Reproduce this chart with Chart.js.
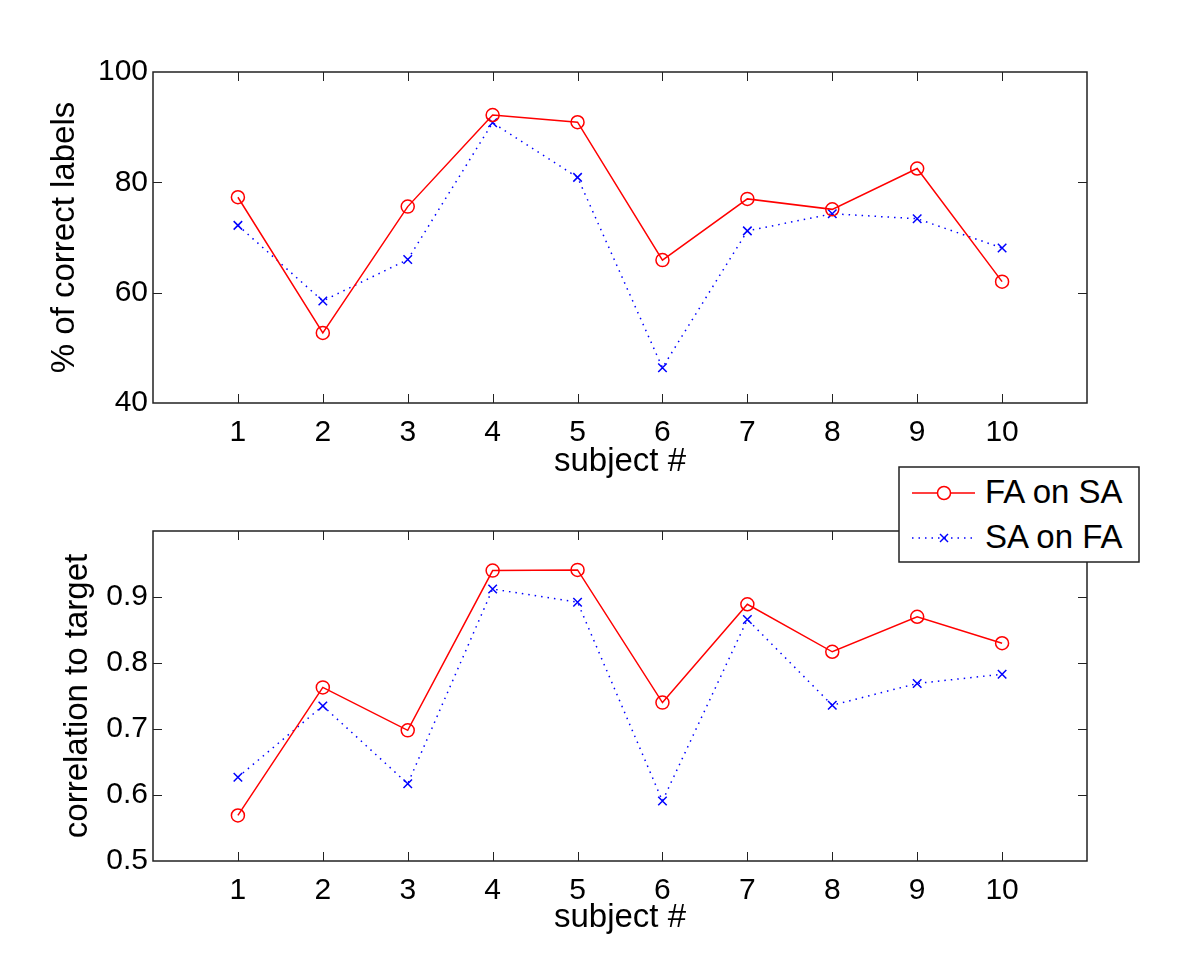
<!DOCTYPE html>
<html>
<head>
<meta charset="utf-8">
<script src="https://cdn.jsdelivr.net/npm/chart.js@4/dist/chart.umd.min.js"></script>
<style>
  body { margin: 0; background: #fff; }
  #wrap { position: relative; width: 1200px; height: 969px; }
  #top { position: absolute; left: 0; top: 0; }
  #bottom { position: absolute; left: 0; top: 490px; }
  #legend { position: absolute; left: 898px; top: 466px; }
</style>
</head>
<body>
<div id="wrap">
  <canvas id="top" width="1200" height="490"></canvas>
  <canvas id="bottom" width="1200" height="479"></canvas>
  <svg id="legend" width="243" height="98" font-family="'Liberation Sans', Arial, sans-serif">
    <rect x="1" y="1" width="240" height="95" fill="#fff" stroke="#222" stroke-width="1.5"/>
    <line x1="14" y1="27" x2="77" y2="27" stroke="#ff0000" stroke-width="1.5"/>
    <circle cx="46" cy="27" r="6.5" fill="#fff" stroke="#ff0000" stroke-width="1.5"/>
    <line x1="14" y1="72" x2="77" y2="72" stroke="#0000ff" stroke-width="1.5" stroke-dasharray="1.5 5"/>
    <line x1="42" y1="68" x2="50" y2="76" stroke="#0000ff" stroke-width="1.5"/>
    <line x1="42" y1="76" x2="50" y2="68" stroke="#0000ff" stroke-width="1.5"/>
    <text x="87" y="37" font-size="33" fill="#000">FA on SA</text>
    <text x="87" y="82" font-size="33" fill="#000">SA on FA</text>
  </svg>
</div>
<script>
// data
var subjects = [1, 2, 3, 4, 5, 6, 7, 8, 9, 10];
var faOnSaPct = [77.3, 52.7, 75.6, 92.2, 90.9, 65.9, 77.0, 75.1, 82.5, 62.0];
var saOnFaPct = [72.2, 58.5, 66.0, 90.8, 80.9, 46.4, 71.2, 74.3, 73.4, 68.1];
var faOnSaCorr = [0.569, 0.763, 0.698, 0.940, 0.941, 0.740, 0.889, 0.817, 0.870, 0.830];
var saOnFaCorr = [0.627, 0.735, 0.617, 0.912, 0.892, 0.591, 0.866, 0.736, 0.769, 0.783];
var pctTicks = [40, 60, 80, 100];
var corrTicks = [0.5, 0.6, 0.7, 0.8, 0.9];

var FONT = "'Liberation Sans', Arial, sans-serif";
Chart.defaults.font.family = FONT;
Chart.defaults.color = "#000";

function pts(vals) {
    return subjects.map(function (s, i) { return {x: s, y: vals[i]}; });
}

// box + inward tick marks, matlab style
var axesBox = {
    id: 'axesBox',
    afterDatasetsDraw: function (chart) {
        var a = chart.chartArea, ctx = chart.ctx, L = 9;
        ctx.save();
        ctx.strokeStyle = "#222";
        ctx.lineWidth = 1.5;
        ctx.strokeRect(a.left, a.top, a.right - a.left, a.bottom - a.top);
        ctx.lineWidth = 1;
        ctx.beginPath();
        chart.scales.x.ticks.forEach(function (t) {
            var px = Math.round(chart.scales.x.getPixelForValue(t.value)) + 0.5;
            ctx.moveTo(px, a.bottom); ctx.lineTo(px, a.bottom - L);
            ctx.moveTo(px, a.top); ctx.lineTo(px, a.top + L);
        });
        chart.scales.y.ticks.forEach(function (t) {
            var py = Math.round(chart.scales.y.getPixelForValue(t.value)) + 0.5;
            if (py <= a.top + 1 || py >= a.bottom - 1) return;
            ctx.moveTo(a.left, py); ctx.lineTo(a.left + L, py);
            ctx.moveTo(a.right, py); ctx.lineTo(a.right - L, py);
        });
        ctx.stroke();
        ctx.restore();
    }
};

function makeChart(id, faVals, saVals, yMin, yMax, yTicks, yTitle, opts) {
    var ctx = document.getElementById(id).getContext("2d");
    return new Chart(ctx, {
        type: "line",
        data: {
            datasets: [
                {
                    label: "FA on SA",
                    data: pts(faVals),
                    borderColor: "#ff0000",
                    borderWidth: 1.5,
                    pointStyle: "circle",
                    pointRadius: 6.5,
                    pointBorderWidth: 1.5,
                    pointBorderColor: "#ff0000",
                    pointBackgroundColor: "rgba(0,0,0,0)",
                    tension: 0
                },
                {
                    label: "SA on FA",
                    data: pts(saVals),
                    borderColor: "#0000ff",
                    borderWidth: 1.5,
                    borderDash: [1.5, 5],
                    pointStyle: "crossRot",
                    pointRadius: 6,
                    pointBorderWidth: 1.5,
                    pointBorderColor: "#0000ff",
                    tension: 0
                }
            ]
        },
        options: {
            responsive: false,
            animation: false,
            layout: {padding: {top: opts.padTop, right: 113, bottom: 0, left: 0}},
            plugins: {legend: {display: false}, tooltip: {enabled: false}},
            scales: {
                x: {
                    type: "linear",
                    min: 0,
                    max: 11,
                    grid: {display: false, drawTicks: false},
                    border: {display: false},
                    ticks: {stepSize: 1, padding: 12, font: {size: 30}, autoSkip: false},
                    afterBuildTicks: function (s) {
                        s.ticks = subjects.map(function (v) { return {value: v}; });
                    },
                    afterFit: function (s) { s.height = opts.xHeight; },
                    title: {display: true, text: "subject #", font: {size: 33},
                            padding: {top: 0, bottom: opts.xTitlePad}}
                },
                y: {
                    min: yMin,
                    max: yMax,
                    grid: {display: false, drawTicks: false},
                    border: {display: false},
                    ticks: {padding: 5, font: {size: 30},
                            callback: function (v) { return opts.fmt(v); }},
                    afterBuildTicks: function (s) {
                        s.ticks = yTicks.map(function (v) { return {value: v}; });
                    },
                    afterFit: function (s) { s.width = 153; },
                    title: {display: true, text: yTitle, font: {size: 33},
                            padding: {top: opts.yTitlePad, bottom: 0}}
                }
            }
        },
        plugins: [axesBox]
    });
}

makeChart("top", faOnSaPct, saOnFaPct, 40, 100, pctTicks, "% of correct labels", {
    padTop: 72, xHeight: 87, xTitlePad: 8, yTitlePad: 45,
    fmt: function (v) { return String(v); }
});

makeChart("bottom", faOnSaCorr, saOnFaCorr, 0.5, 1.0, corrTicks, "correlation to target", {
    padTop: 41, xHeight: 108, xTitlePad: 31, yTitlePad: 58,
    fmt: function (v) { return v.toFixed(1); }
});
</script>
</body>
</html>
